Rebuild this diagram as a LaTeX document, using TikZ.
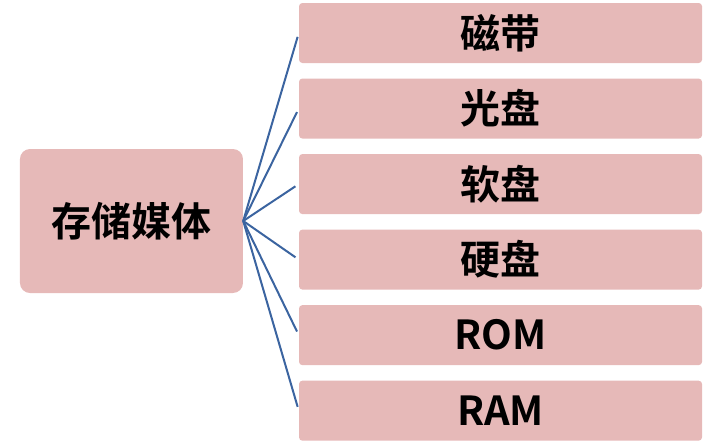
\documentclass[tikz,border=0pt]{standalone}
\usepackage{fontspec}
\newfontfamily\cjk{Noto Sans CJK SC}[BoldFont={Noto Sans CJK SC Bold}]
\usepackage{xcolor}
\usepackage{tikz}
\usetikzlibrary{positioning}

\definecolor{boxpink}{HTML}{E6B9B8}
\definecolor{linkblue}{HTML}{3B64A0}

\begin{document}
\begin{tikzpicture}[
        root/.style={rectangle, fill=boxpink, rounded corners=7.5pt, minimum width=167.25pt, minimum height=108pt, inner sep=0pt, font=\cjk\bfseries\fontsize{30}{36}\selectfont, text centered},
        item/.style={rectangle, fill=boxpink, rounded corners=2.5pt, minimum width=302.25pt, minimum height=45pt, inner sep=0pt, font=\cjk\bfseries\fontsize{30}{36}\selectfont, text centered},
        link/.style={draw=linkblue, line width=1.5pt, shorten >=3pt}
    ]

    \useasboundingbox (0,0) rectangle (541.5pt,-332.25pt);

    \node (main) [root] at (98.6pt,-165.75pt) {存储媒体};

    \node (tape) [item] at (375.4pt,-24.75pt) {磁带};
    \node (optical) [item, below=11.25pt of tape] {光盘};
    \node (floppy) [item, below=11.25pt of optical] {软盘};
    \node (hard) [item, below=11.25pt of floppy] {硬盘};
    \node (rom) [item, below=11.25pt of hard] {ROM};
    \node (ram) [item, below=11.25pt of rom] {RAM};

    \draw [link] (main.east) -- (tape.west);
    \draw [link] (main.east) -- (optical.west);
    \draw [link] (main.east) -- (floppy.west);
    \draw [link] (main.east) -- (hard.west);
    \draw [link] (main.east) -- (rom.west);
    \draw [link] (main.east) -- (ram.west);

\end{tikzpicture}
\end{document}
